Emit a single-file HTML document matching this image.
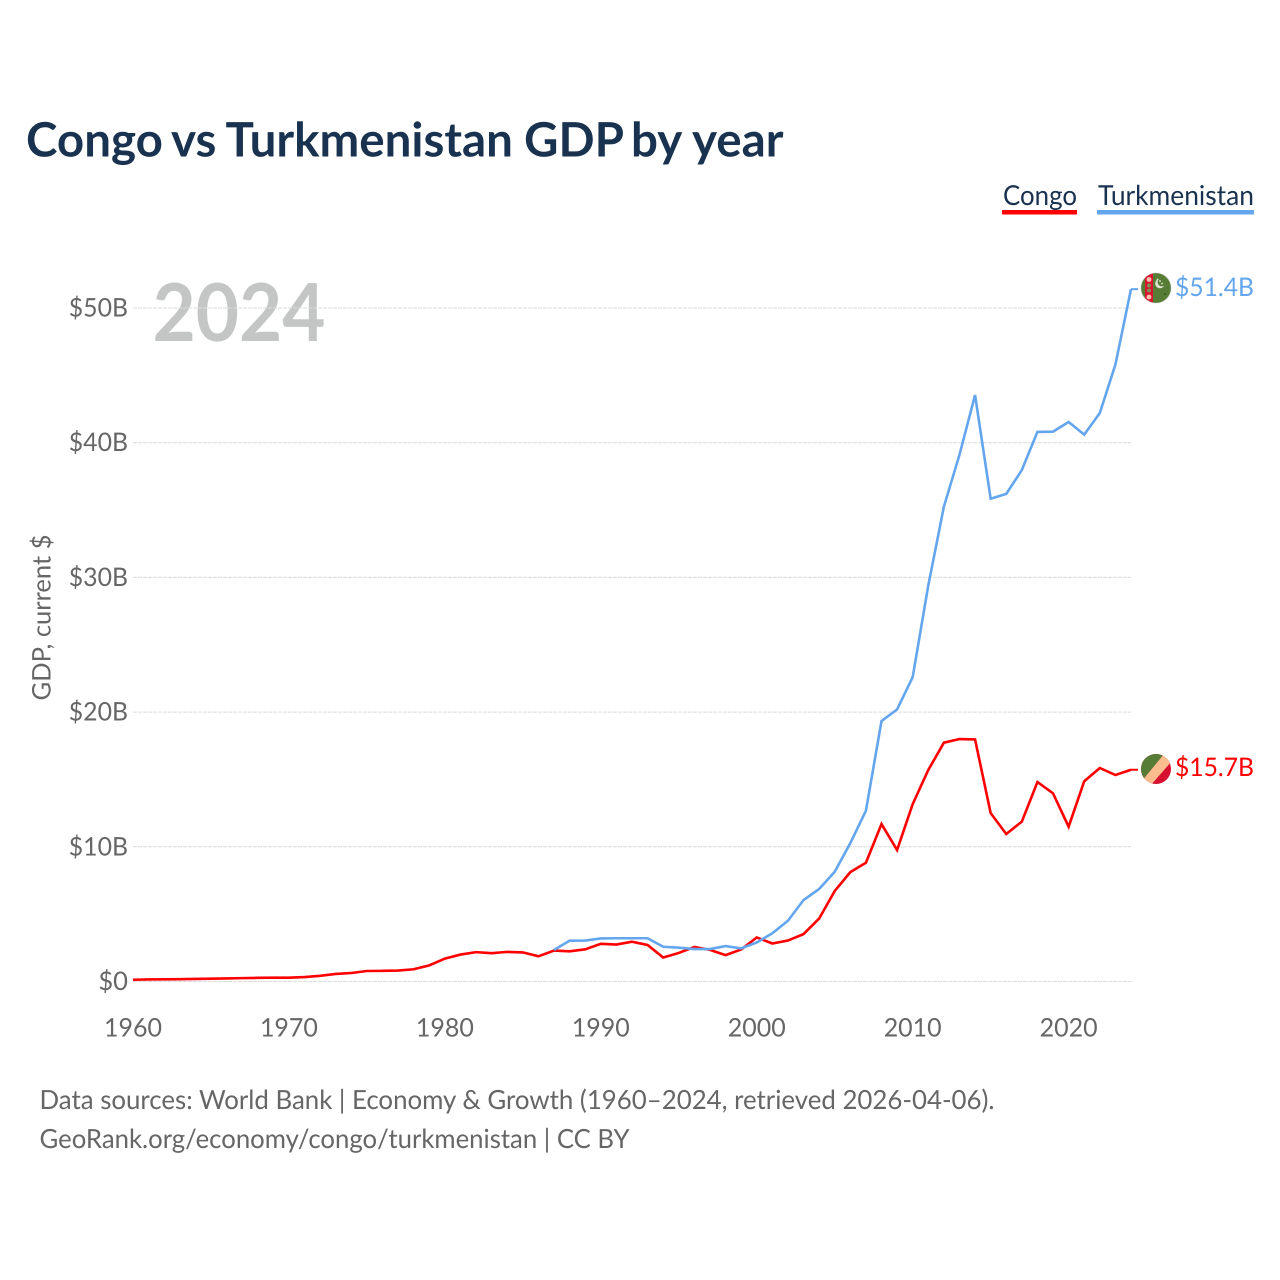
<!DOCTYPE html>
<html lang="en">
<head>
<meta charset="utf-8">
<title>Congo vs Turkmenistan GDP by year</title>
<style>
html,body{margin:0;padding:0;background:#fff;}
svg{display:block;}
text{font-family:Lato,Carlito,"Liberation Sans",sans-serif;text-rendering:geometricPrecision;}
</style>
</head>
<body>
<svg id="chart" xmlns="http://www.w3.org/2000/svg" width="1280" height="1280" viewBox="0 0 1280 1280">
  <rect x="0" y="0" width="1280" height="1280" fill="#ffffff"/>
  <text y="156.5" font-size="47.5" font-weight="700" fill="#18324f"><tspan x="26">Congo</tspan> <tspan x="171">vs</tspan> <tspan x="225.5">Turkmenistan</tspan> <tspan x="524">GDP</tspan> <tspan x="631">by</tspan> <tspan x="692">year</tspan></text>

  <g>
    <text x="1003" y="205" font-size="27.5" fill="#18324f" textLength="74" lengthAdjust="spacingAndGlyphs">Congo</text>
    <rect x="1002" y="210" width="75" height="4.5" fill="#ff0000"/>
  </g>
  <g>
    <text x="1098" y="205" font-size="27.5" fill="#18324f" textLength="156" lengthAdjust="spacingAndGlyphs">Turkmenistan</text>
    <rect x="1097" y="210" width="157" height="4.5" fill="#63a6ee"/>
  </g>

  <text x="152.5" y="341" font-size="80" font-weight="700" fill="#c4c6c6" textLength="173" lengthAdjust="spacingAndGlyphs">2024</text>

  <g id="grid"></g>
  <g id="ytick-labels"></g>
  <g id="xtick-labels"></g>
  <text transform="translate(50.5,700.5) rotate(-90)" font-size="25.6" fill="#666666" textLength="166" lengthAdjust="spacingAndGlyphs">GDP, current $</text>
  <g id="lines"></g>

  <defs>
    <clipPath id="flag-clip-tm"><circle cx="1156" cy="288" r="15"/></clipPath>
    <clipPath id="flag-clip-cg"><circle cx="1156" cy="769" r="15"/></clipPath>
  </defs>

  <g clip-path="url(#flag-clip-tm)">
    <rect x="1141" y="273" width="30" height="30" fill="#567c36"/>
    <rect x="1145" y="273" width="8" height="30" fill="#dc1430"/>
    <circle cx="1149" cy="279.5" r="2.4" fill="#f6c3ae"/>
    <circle cx="1149" cy="285.5" r="2" fill="#7f8f55"/>
    <circle cx="1149" cy="290.5" r="2" fill="#7f8f55"/>
    <circle cx="1149" cy="297" r="2.4" fill="#f6c3ae"/>
    <circle cx="1160" cy="283.5" r="4.8" fill="#dfe6d4"/>
    <circle cx="1162" cy="282" r="4.4" fill="#567c36"/>
    <circle cx="1157.5" cy="279.5" r="0.9" fill="#e4ead8"/>
    <circle cx="1160" cy="281" r="0.9" fill="#e4ead8"/>
    <circle cx="1162" cy="283.5" r="0.9" fill="#e4ead8"/>
    <circle cx="1165" cy="294" r="0.7" fill="#1d2a12"/>
  </g>
  <circle cx="1156" cy="288" r="15" fill="none" stroke="#bbbbbb" stroke-opacity="0.4" stroke-width="1"/>

  <g clip-path="url(#flag-clip-cg)">
    <rect x="1141" y="754" width="30" height="30" fill="#d5112f"/>
    <polygon points="1141,754 1164,754 1141,782" fill="#567c36"/>
    <polygon points="1164,754 1172,761 1150,786 1141,782" fill="#fbbd8d"/>
  </g>

  <text x="1175" y="296" font-size="25.6" fill="#63a6ee" textLength="79" lengthAdjust="spacingAndGlyphs">$51.4B</text>
  <text x="1175" y="776" font-size="25.6" fill="#ff0000" textLength="79" lengthAdjust="spacingAndGlyphs">$15.7B</text>

  <text x="39.5" y="1109" font-size="26.4" fill="#666666" textLength="955" lengthAdjust="spacingAndGlyphs">Data sources: World Bank | Economy &amp; Growth (1960–2024, retrieved 2026-04-06).</text>
  <text x="39.5" y="1148" font-size="26.4" fill="#666666" textLength="590" lengthAdjust="spacingAndGlyphs">GeoRank.org/economy/congo/turkmenistan | CC BY</text>
</svg>
<script>
const years = [1960,1961,1962,1963,1964,1965,1966,1967,1968,1969,1970,1971,1972,1973,1974,1975,1976,1977,1978,1979,1980,1981,1982,1983,1984,1985,1986,1987,1988,1989,1990,1991,1992,1993,1994,1995,1996,1997,1998,1999,2000,2001,2002,2003,2004,2005,2006,2007,2008,2009,2010,2011,2012,2013,2014,2015,2016,2017,2018,2019,2020,2021,2022,2023,2024];
const congoValues = [0.13,0.15,0.16,0.17,0.19,0.21,0.23,0.25,0.27,0.28,0.28,0.33,0.42,0.56,0.63,0.78,0.79,0.81,0.91,1.2,1.7,2.0,2.18,2.1,2.2,2.16,1.87,2.3,2.24,2.39,2.8,2.74,2.95,2.71,1.78,2.12,2.56,2.35,1.96,2.38,3.27,2.82,3.04,3.52,4.67,6.72,8.12,8.82,11.69,9.76,13.17,15.7,17.73,18.0,17.97,12.5,10.95,11.87,14.81,13.97,11.49,14.87,15.85,15.33,15.72];
const turkmenistanYears = [1987,1988,1989,1990,1991,1992,1993,1994,1995,1996,1997,1998,1999,2000,2001,2002,2003,2004,2005,2006,2007,2008,2009,2010,2011,2012,2013,2014,2015,2016,2017,2018,2019,2020,2021,2022,2023,2024];
const turkmenistanValues = [2.34,3.03,3.04,3.2,3.21,3.21,3.21,2.58,2.51,2.41,2.41,2.63,2.46,2.9,3.58,4.51,6.05,6.87,8.15,10.27,12.68,19.33,20.2,22.6,29.4,35.25,39.1,43.54,35.84,36.2,37.97,40.8,40.82,41.54,40.6,42.2,45.8,51.4];
const yTickValues = [0,10,20,30,40,50];
const yTickLabels = ["$0","$10B","$20B","$30B","$40B","$50B"];
const xTickValues = [1960,1970,1980,1990,2000,2010,2020];
const xTickLabels = ["1960","1970","1980","1990","2000","2010","2020"];

const NS = "http://www.w3.org/2000/svg";
const xScale = function (year) { return 133 + (year - 1960) * (998 / 64); };
const yScale = function (value) { return 981.5 - value * 13.47; };

function make(tag, attrs, parent) {
  const el = document.createElementNS(NS, tag);
  Object.keys(attrs).forEach(function (k) { el.setAttribute(k, attrs[k]); });
  parent.appendChild(el);
  return el;
}

const gridGroup = document.getElementById("grid");
const yLabelGroup = document.getElementById("ytick-labels");
const xLabelGroup = document.getElementById("xtick-labels");
const lineGroup = document.getElementById("lines");

yTickValues.forEach(function (v, i) {
  const line = make("line", {x1: 133, x2: 1131, y1: yScale(v), y2: yScale(v), stroke: "#dcdcdc", "stroke-width": 1, "stroke-dasharray": "4,1"}, gridGroup);
  
  
  const label = make("text", {x: 128, y: yScale(v) + 8.5, "text-anchor": "end", "font-size": 25.6, fill: "#666666", textLength: yTickLabels[i].length * 14.8, lengthAdjust: "spacingAndGlyphs"}, yLabelGroup);
  label.textContent = yTickLabels[i];
  
  
});

xTickValues.forEach(function (v, i) {
  const label = make("text", {x: xScale(v), y: 1036.5, "text-anchor": "middle", "font-size": 25.6, fill: "#666666", textLength: 58, lengthAdjust: "spacingAndGlyphs"}, xLabelGroup);
  label.textContent = xTickLabels[i];
  
  
});

function seriesPath(xs, ys) {
  return xs.map(function (x, i) {
    return (i === 0 ? "M" : "L") + xScale(x).toFixed(2) + " " + yScale(ys[i]).toFixed(2);
  }).join(" ");
}

const congoLine = make("path", {d: seriesPath(years, congoValues), fill: "none", stroke: "#ff0000", "stroke-width": 2.6, "stroke-linejoin": "miter"}, lineGroup);



const turkmenLine = make("path", {d: seriesPath(turkmenistanYears, turkmenistanValues), fill: "none", stroke: "#63a6ee", "stroke-width": 2.6, "stroke-linejoin": "miter"}, lineGroup);



const congoLast = congoValues[congoValues.length - 1];
const turkmenLast = turkmenistanValues[turkmenistanValues.length - 1];

const congoStub = make("line", {x1: xScale(2024), x2: 1138, y1: yScale(congoLast), y2: yScale(congoLast), stroke: "#ff0000", "stroke-width": 2}, lineGroup);



const turkmenStub = make("line", {x1: xScale(2024), x2: 1138, y1: yScale(turkmenLast), y2: yScale(turkmenLast), stroke: "#63a6ee", "stroke-width": 2}, lineGroup);


</script>
</body>
</html>
